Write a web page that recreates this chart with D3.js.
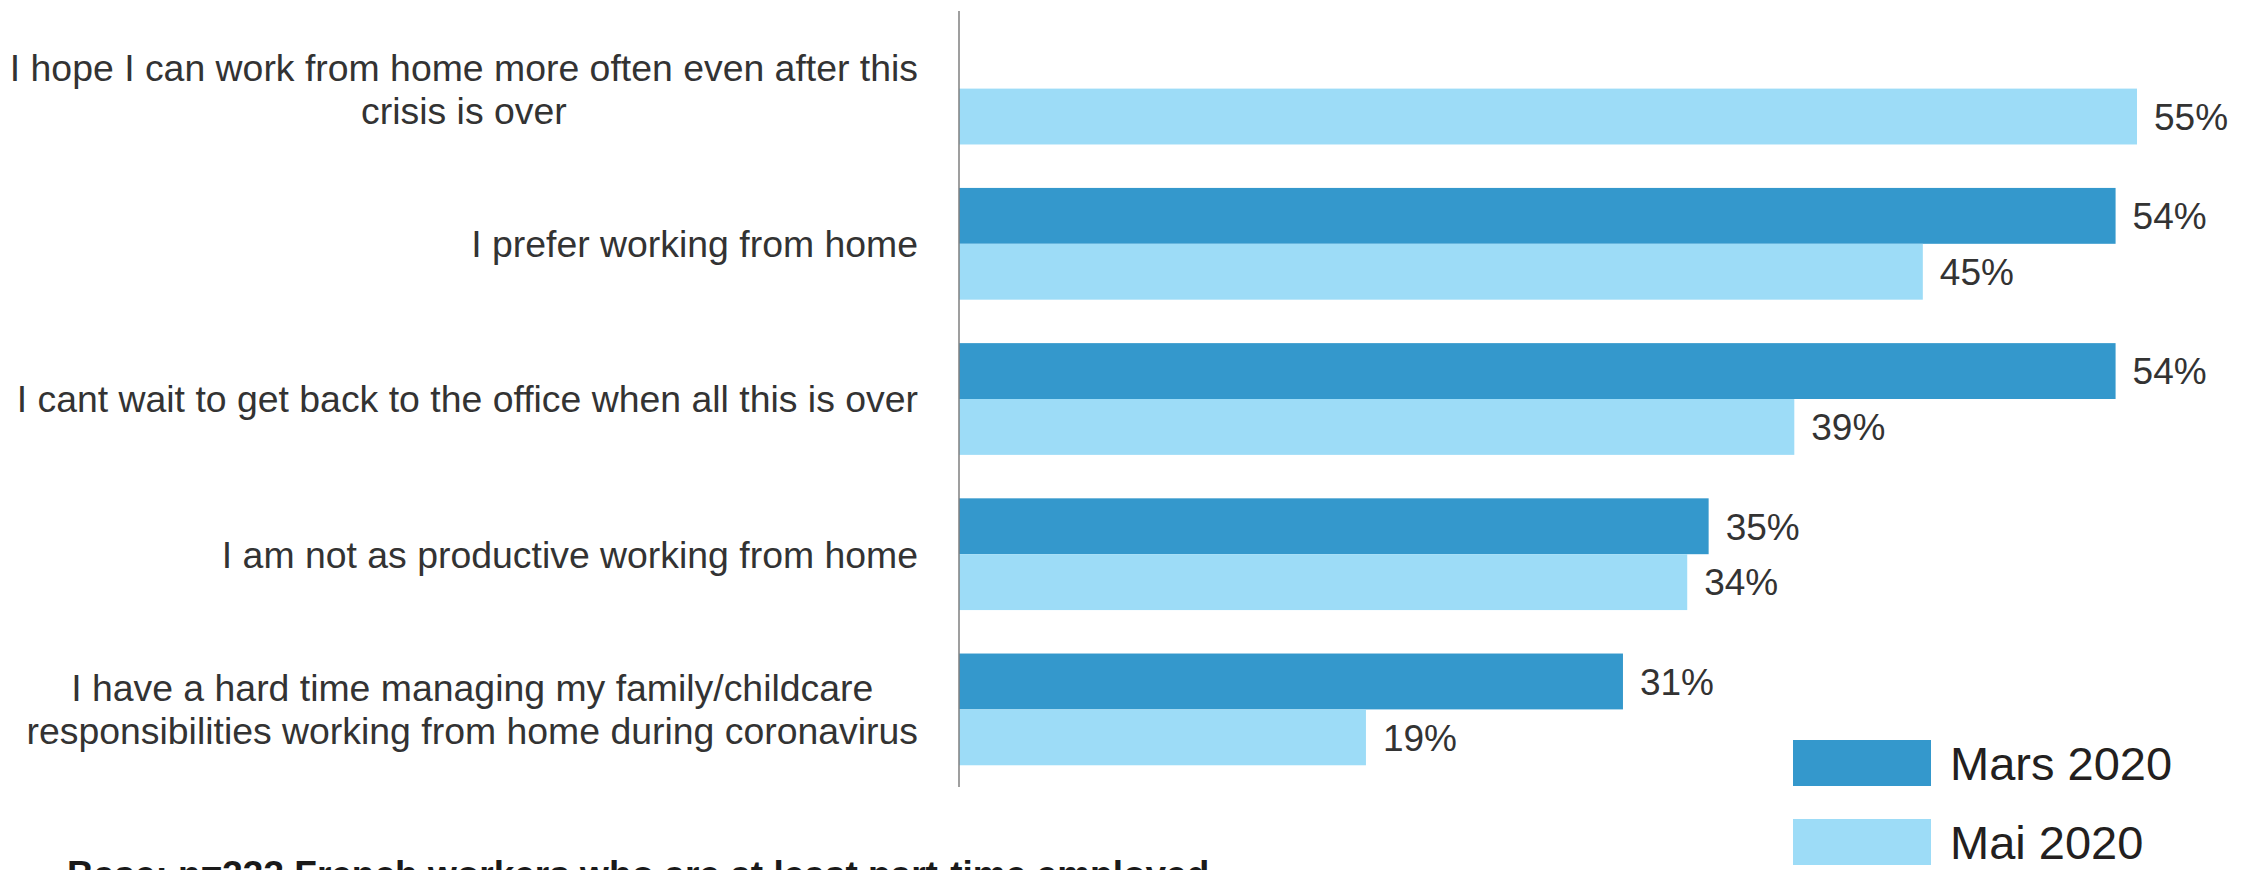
<!DOCTYPE html>
<html>
<head>
<meta charset="utf-8">
<script src="https://cdn.jsdelivr.net/npm/d3@7/dist/d3.min.js"></script>
<style>
  html, body { margin: 0; padding: 0; background: #ffffff; overflow: hidden; }
  svg { display: block; font-family: "Liberation Sans", Arial, Helvetica, sans-serif; }
</style>
</head>
<body>
<svg id="chart" width="2245" height="870"></svg>
<script>
// ---- Data ----
const categories = [
  "I hope I can work from home more often even after this|crisis is over",
  "I prefer working from home",
  "I cant wait to get back to the office when all this is over",
  "I am not as productive working from home",
  "I have a hard time managing my family/childcare|responsibilities working from home during coronavirus"
];
const seriesNames = ["Mars 2020", "Mai 2020"];
const marsValues = [null, 54, 54, 35, 31];
const maiValues = [55, 45, 39, 34, 19];
const footnote = "Base: n=333 French workers who are at least part-time employed";

const colors = { "Mars 2020": "#3498cc", "Mai 2020": "#9ddcf7" };

const rows = categories.map((c, i) => ({
  category: c,
  values: [
    { series: seriesNames[0], value: marsValues[i] },
    { series: seriesNames[1], value: maiValues[i] }
  ]
}));

// ---- Layout ----
const svg = d3.select("#chart");
const axisX = 959;
const y = d3.scaleBand().domain(categories).range([11, 787]).paddingInner(0.28).paddingOuter(0.14);
const ySub = d3.scaleBand().domain(seriesNames).range([0, y.bandwidth()]);
const x = d3.scaleLinear().domain([0, 55]).range([axisX, 2137]);

const groups = svg.append("g").selectAll("g.grp")
  .data(rows).join("g")
  .attr("class", "grp")
  .attr("transform", d => `translate(0,${y(d.category)})`);

const bars = groups.selectAll("g.bar")
  .data(d => d.values.filter(v => v.value !== null))
  .join("g").attr("class", "bar");

bars.append("rect")
  .attr("x", x(0))
  .attr("y", d => ySub(d.series))
  .attr("width", d => x(d.value) - x(0))
  .attr("height", ySub.bandwidth())
  .attr("fill", d => colors[d.series]);

bars.append("text")
  .attr("x", d => x(d.value) + 17)
  .attr("y", d => ySub(d.series) + ySub.bandwidth() / 2)
  .attr("dy", "0.36em")
  .attr("font-size", 37)
  .attr("fill", "#333333")
  .text(d => d.value + "%");

// Category labels
const labelRight = 918;
groups.each(function(d) {
  const g = d3.select(this);
  const lines = d.category.split("|");
  const lh = 43;
  const cy = y.bandwidth() / 2;
  const t = g.append("text")
    .attr("font-size", 37.4)
    .attr("fill", "#333333");
  lines.forEach((ln, i) => {
    t.append("tspan")
      .attr("y", cy + (i - (lines.length - 1) / 2) * lh)
      .attr("dy", "0.36em")
      .text(ln);
  });
  if (lines.length === 1) {
    t.attr("text-anchor", "end").selectAll("tspan").attr("x", labelRight);
  } else {
    let maxW = 0;
    t.selectAll("tspan").each(function() { maxW = Math.max(maxW, this.getComputedTextLength()); });
    t.attr("text-anchor", "middle").selectAll("tspan").attr("x", labelRight - maxW / 2);
  }
});

// Axis line
svg.append("line")
  .attr("x1", axisX).attr("x2", axisX)
  .attr("y1", y.range()[0]).attr("y2", y.range()[1])
  .attr("stroke", "#7f7f7f").attr("stroke-width", 1.5);

// Legend
const legend = svg.append("g");
const legY = [740, 819];
seriesNames.forEach((s, i) => {
  legend.append("rect")
    .attr("x", 1793).attr("y", legY[i])
    .attr("width", 138).attr("height", 46)
    .attr("fill", colors[s]);
  legend.append("text")
    .attr("x", 1950).attr("y", legY[i] + 23)
    .attr("dy", "0.36em")
    .attr("font-size", 47)
    .attr("fill", "#231f20")
    .text(s);
});

// Footnote (partially cut off at bottom, as in the reference)
svg.append("text")
  .attr("x", 67).attr("y", 887)
  .attr("font-size", 37)
  .attr("font-weight", "bold")
  .attr("fill", "#1a1a1a")
  .text(footnote);
</script>
</body>
</html>
